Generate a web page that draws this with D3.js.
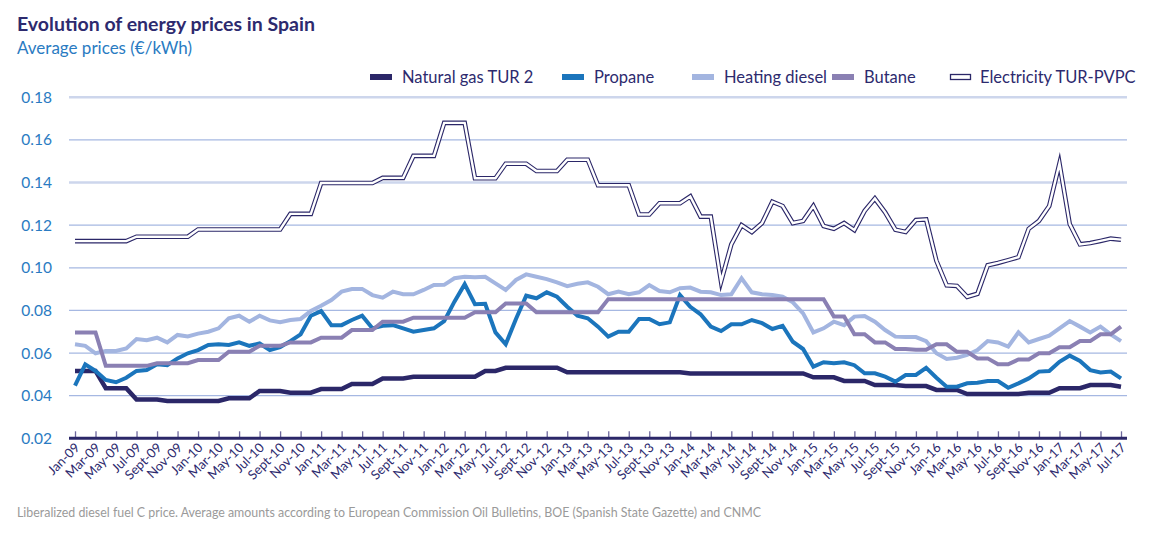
<!DOCTYPE html>
<html><head><meta charset="utf-8">
<script src="https://cdn.jsdelivr.net/npm/d3@7"></script>
<style>
body{margin:0;background:#fff}
svg{display:block}
text{font-family:Lato,"Open Sans",sans-serif}
</style>
</head><body>
<svg id="chart" width="1152" height="540"></svg>
<script>
// ---- DATA ----
const monthNames = ["Jan","Feb","Mar","Apr","May","Jun","Jul","Aug","Sept","Oct","Nov","Dec"];
const years = ["09","10","11","12","13","14","15","16","17"];
const months = [];
years.forEach(yy => monthNames.forEach((m, k) => { if (!(yy === "17" && k > 6)) months.push(m + "-" + yy); }));
const tickLabels = ["Jan-09","Mar-09","May-09","Jul-09","Sept-09","Nov-09","Jan-10","Mar-10","May-10","Jul-10","Sept-10","Nov-10",
  "Jan-11","Mar-11","May-11","Jul-11","Sept-11","Nov-11","Jan-12","Mar-12","May-12","Jul-12","Sept-12","Nov-12",
  "Jan-13","Mar-13","May-13","Jul-13","Sept-13","Nov-13","Jan-14","Mar-14","May-14","Jul-14","Sept-14","Nov-14",
  "Jan-15","Mar-15","May-15","Jul-15","Sept-15","Nov-15","Jan-16","Mar-16","May-16","Jul-16","Sept-16","Nov-16",
  "Jan-17","Mar-17","May-17","Jul-17"];
const yTicks = [0.02,0.04,0.06,0.08,0.10,0.12,0.14,0.16,0.18];

const naturalGas = [
  0.0516,0.0516,0.0516,0.0435,0.0435,0.0435,0.0382,0.0382,0.0382,0.0375,0.0375,0.0375,
  0.0375,0.0375,0.0375,0.0388,0.0388,0.0388,0.0422,0.0422,0.0422,0.0414,0.0414,0.0414,
  0.0431,0.0431,0.0431,0.0455,0.0455,0.0455,0.0481,0.0481,0.0481,0.0489,0.0489,0.0489,
  0.0489,0.0489,0.0489,0.0489,0.0516,0.0516,0.0531,0.0531,0.0531,0.0531,0.0531,0.0531,
  0.0510,0.0510,0.0510,0.0510,0.0510,0.0510,0.0510,0.0510,0.0510,0.0510,0.0510,0.0510,
  0.0504,0.0504,0.0504,0.0504,0.0504,0.0504,0.0504,0.0504,0.0504,0.0504,0.0504,0.0504,
  0.0486,0.0486,0.0486,0.0469,0.0469,0.0469,0.0450,0.0450,0.0450,0.0445,0.0445,0.0445,
  0.0427,0.0427,0.0427,0.0408,0.0408,0.0408,0.0408,0.0408,0.0408,0.0414,0.0414,0.0414,
  0.0435,0.0435,0.0435,0.0450,0.0450,0.0450,0.0442];
const propane = [
  0.0447,0.0547,0.0516,0.0474,0.0463,0.0484,0.0516,0.0520,0.0547,0.0543,0.0575,0.0599,
  0.0614,0.0638,0.0641,0.0638,0.0650,0.0634,0.0645,0.0614,0.0628,0.0656,0.0688,0.0775,
  0.0797,0.0731,0.0731,0.0755,0.0775,0.0716,0.0728,0.0731,0.0716,0.0700,0.0708,0.0716,
  0.0750,0.0841,0.0923,0.0829,0.0831,0.0697,0.0641,0.0760,0.0869,0.0857,0.0885,0.0864,
  0.0817,0.0775,0.0763,0.0724,0.0677,0.0700,0.0700,0.0760,0.0760,0.0735,0.0744,0.0872,
  0.0817,0.0782,0.0724,0.0703,0.0735,0.0735,0.0755,0.0740,0.0713,0.0728,0.0653,0.0619,
  0.0536,0.0557,0.0552,0.0557,0.0543,0.0505,0.0505,0.0489,0.0466,0.0497,0.0497,0.0531,
  0.0484,0.0442,0.0442,0.0458,0.0461,0.0469,0.0469,0.0437,0.0458,0.0481,0.0513,0.0516,
  0.0559,0.0588,0.0563,0.0520,0.0509,0.0513,0.0481];
const heatingDiesel = [
  0.0641,0.0634,0.0599,0.0610,0.0610,0.0622,0.0666,0.0660,0.0672,0.0650,0.0685,0.0678,
  0.0691,0.0700,0.0716,0.0763,0.0775,0.0747,0.0775,0.0753,0.0745,0.0755,0.0760,0.0797,
  0.0822,0.0849,0.0888,0.0900,0.0901,0.0872,0.0860,0.0888,0.0876,0.0876,0.0896,0.0919,
  0.0920,0.0951,0.0958,0.0956,0.0958,0.0927,0.0896,0.0943,0.0969,0.0958,0.0947,0.0932,
  0.0914,0.0925,0.0932,0.0911,0.0876,0.0888,0.0876,0.0885,0.0919,0.0891,0.0885,0.0904,
  0.0907,0.0888,0.0885,0.0872,0.0876,0.0951,0.0885,0.0876,0.0872,0.0864,0.0838,0.0786,
  0.0697,0.0716,0.0747,0.0731,0.0771,0.0774,0.0747,0.0708,0.0677,0.0675,0.0675,0.0656,
  0.0599,0.0572,0.0578,0.0591,0.0614,0.0656,0.0650,0.0630,0.0697,0.0650,0.0666,0.0682,
  0.0716,0.0750,0.0724,0.0697,0.0724,0.0688,0.0656];
const butane = [
  0.0697,0.0697,0.0697,0.0540,0.0540,0.0540,0.0540,0.0540,0.0552,0.0552,0.0552,0.0552,
  0.0567,0.0567,0.0567,0.0606,0.0606,0.0606,0.0634,0.0634,0.0634,0.0650,0.0650,0.0650,
  0.0672,0.0672,0.0672,0.0708,0.0708,0.0708,0.0747,0.0747,0.0747,0.0766,0.0766,0.0766,
  0.0766,0.0766,0.0766,0.0791,0.0791,0.0791,0.0833,0.0833,0.0833,0.0791,0.0791,0.0791,
  0.0791,0.0791,0.0791,0.0791,0.0853,0.0853,0.0853,0.0853,0.0853,0.0853,0.0853,0.0853,
  0.0853,0.0853,0.0853,0.0853,0.0853,0.0853,0.0853,0.0853,0.0853,0.0853,0.0853,0.0853,
  0.0853,0.0853,0.0771,0.0771,0.0688,0.0688,0.0650,0.0650,0.0619,0.0619,0.0615,0.0615,
  0.0641,0.0641,0.0606,0.0606,0.0575,0.0575,0.0547,0.0547,0.0570,0.0570,0.0599,0.0599,
  0.0627,0.0627,0.0656,0.0656,0.0688,0.0688,0.0724];
const electricity = [
  0.1125,0.1125,0.1125,0.1125,0.1125,0.1125,0.1146,0.1146,0.1146,0.1146,0.1146,0.1146,
  0.1180,0.1180,0.1180,0.1180,0.1180,0.1180,0.1180,0.1180,0.1180,0.1253,0.1253,0.1253,
  0.1398,0.1398,0.1398,0.1398,0.1398,0.1398,0.1422,0.1422,0.1422,0.1525,0.1525,0.1525,
  0.1680,0.1680,0.1680,0.1420,0.1420,0.1420,0.1488,0.1488,0.1488,0.1454,0.1454,0.1454,
  0.1507,0.1507,0.1507,0.1387,0.1387,0.1387,0.1387,0.1250,0.1250,0.1303,0.1303,0.1303,
  0.1335,0.1240,0.1240,0.0935,0.1110,0.1200,0.1168,0.1210,0.1310,0.1290,0.1210,0.1220,
  0.1290,0.1196,0.1183,0.1210,0.1177,0.1267,0.1325,0.1260,0.1179,0.1168,0.1224,0.1227,
  0.1033,0.0918,0.0915,0.0864,0.0878,0.1012,0.1023,0.1036,0.1050,0.1183,0.1220,0.1290,
  0.1490,0.1205,0.1110,0.1116,0.1126,0.1137,0.1132];

const seriesNames = ["Natural gas TUR 2","Propane","Heating diesel","Butane","Electricity TUR-PVPC"];
const seriesColors = ["#2b2768","#1b75bc","#a3b5e0","#8a80b3","#2b2768"];
const seriesValues = [naturalGas, propane, heatingDiesel, butane, electricity];

// ---- CHART ----
const svg = d3.select("#chart");
const x = d3.scalePoint().domain(months).range([75, 1121]);
const y = d3.scaleLinear().domain([0.02, 0.18]).range([438.3, 97.3]);

svg.append("text").attr("x", 17).attr("y", 31).attr("fill", "#2d2a6e")
  .attr("font-size", 19.5).attr("font-weight", 700).text("Evolution of energy prices in Spain");
svg.append("text").attr("x", 17).attr("y", 54).attr("fill", "#2a7bc2")
  .attr("font-size", 17).text("Average prices (€/kWh)");

// gridlines
svg.append("g").selectAll("line").data(yTicks.filter(d => d > 0.02)).join("line")
  .attr("x1", 69).attr("x2", 1127)
  .attr("y1", d => y(d)).attr("y2", d => y(d))
  .attr("stroke", d => (Math.abs(d - 0.18) < 1e-9 || Math.abs(d - 0.14) < 1e-9) ? "#cdd6ec" : "#a6b8e2")
  .attr("stroke-width", d => (Math.abs(d - 0.18) < 1e-9 || Math.abs(d - 0.14) < 1e-9) ? 2.5 : 1.2);

// y axis
const yAxis = svg.append("g").attr("transform", "translate(55,0)")
  .call(d3.axisLeft(y).tickValues(yTicks).tickFormat(d3.format(".2f")).tickSize(0).tickPadding(3));
yAxis.select(".domain").remove();
yAxis.selectAll("text").attr("fill", "#2a7bc2").attr("font-size", 15.5)
  .attr("font-family", "Lato, 'Open Sans', sans-serif");

// x axis
const xAxis = svg.append("g").attr("transform", "translate(0,438.3)")
  .call(d3.axisBottom(x).tickValues(tickLabels).tickSizeInner(-7).tickSizeOuter(0).tickPadding(0));
xAxis.select(".domain").remove();
xAxis.selectAll(".tick line").attr("stroke", "#6d679c").attr("stroke-width", 1.3);
xAxis.selectAll(".tick text")
  .attr("fill", "#2d2a6e").attr("font-size", 13).attr("font-family", "Lato, 'Open Sans', sans-serif")
  .attr("text-anchor", "end").attr("dy", null).attr("y", null)
  .attr("transform", "translate(5,10) rotate(-45)");
svg.append("line").attr("x1", 69).attr("x2", 1127).attr("y1", 438.3).attr("y2", 438.3)
  .attr("stroke", "#2b2768").attr("stroke-width", 3);

// lines
const line = d3.line().x((d, i) => x(months[i])).y(d => y(d));
const lg = svg.append("g").attr("fill", "none");
[0,1,2,3].forEach(k => {
  lg.append("path").datum(seriesValues[k]).attr("d", line)
    .attr("stroke", seriesColors[k]).attr("stroke-width", k === 0 ? 4.5 : 4)
    .attr("stroke-linejoin", "miter");
});
lg.append("path").datum(electricity).attr("d", line)
  .attr("stroke", seriesColors[4]).attr("stroke-width", 4.6).attr("stroke-miterlimit", 10);
lg.append("path").datum(electricity).attr("d", line)
  .attr("stroke", "#ffffff").attr("stroke-width", 2.4).attr("stroke-miterlimit", 10);

// legend
const legendX = [370, 562, 692, 832, 950];
const leg = svg.append("g");
seriesNames.forEach((name, k) => {
  const g = leg.append("g").attr("transform", `translate(${legendX[k]},77)`);
  if (k < 4) {
    g.append("rect").attr("x", 0).attr("y", -3).attr("width", 22).attr("height", 6).attr("fill", seriesColors[k]);
  } else {
    g.append("rect").attr("x", 0.5).attr("y", -2.5).attr("width", 20).attr("height", 5)
      .attr("fill", "#fff").attr("stroke", seriesColors[k]).attr("stroke-width", 1.3);
  }
  g.append("text").attr("x", k < 4 ? 32 : 30).attr("y", 6).attr("fill", "#2d2a6e")
    .attr("font-size", 16.5).text(name);
});

// footnote
svg.append("text").attr("x", 17).attr("y", 517).attr("fill", "#9a9a9a").attr("font-size", 12.4)
  .text("Liberalized diesel fuel C price. Average amounts according to European Commission Oil Bulletins, BOE (Spanish State Gazette) and CNMC");
</script>
</body></html>
